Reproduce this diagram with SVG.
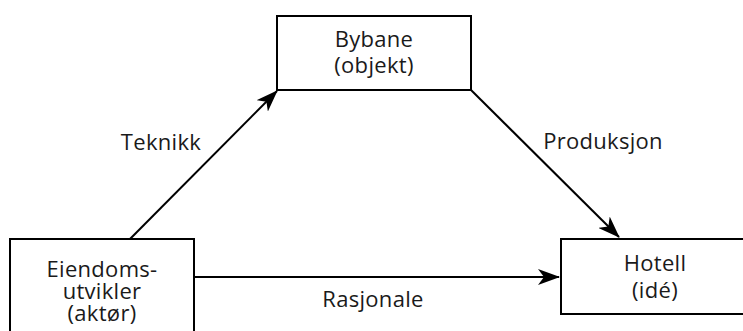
<svg xmlns="http://www.w3.org/2000/svg" width="743" height="331" viewBox="0 0 743 331">
  <style>
    .box { fill: #ffffff; stroke: #000000; stroke-width: 2; }
    .edge { fill: none; stroke: #000000; stroke-width: 2; }
    text { font-family: "Open Sans", "Noto Sans", "Liberation Sans", sans-serif; font-size: 22px; letter-spacing: 0.3px; fill: #1a1a1a; }
    .c { text-anchor: middle; }
  </style>
  <defs>
    <marker id="arrow" markerUnits="userSpaceOnUse" markerWidth="22" markerHeight="16" refX="21" refY="8" orient="auto">
      <path d="M0,0 L22,8 L0,16 L6,8 Z" fill="#000000"/>
    </marker>
  </defs>
  <rect width="743" height="331" fill="#ffffff"/>

  <g id="connectors">
    <line class="edge" x1="130" y1="239" x2="277" y2="91" marker-end="url(#arrow)"/>
    <line class="edge" x1="471" y1="90" x2="619" y2="237" marker-end="url(#arrow)"/>
    <line class="edge" x1="194" y1="277" x2="559" y2="277" marker-end="url(#arrow)"/>
  </g>

  <g id="labels">
    <text x="161" y="150" class="c">Teknikk</text>
    <text x="603" y="149" class="c">Produksjon</text>
    <text x="373" y="307" class="c">Rasjonale</text>
  </g>

  <g id="bybane">
    <rect class="box" x="277" y="16" width="194" height="74"/>
    <text x="374" y="47" class="c">Bybane</text>
    <text x="374" y="73" class="c">(objekt)</text>
  </g>

  <g id="eiendomsutvikler">
    <rect class="box" x="10" y="239" width="184" height="110"/>
    <text x="102" y="277" class="c">Eiendoms-</text>
    <text x="102" y="299" class="c">utvikler</text>
    <text x="102" y="321" class="c">(aktør)</text>
  </g>

  <g id="hotell">
    <rect class="box" x="561" y="239" width="190" height="75"/>
    <text x="655" y="271" class="c">Hotell</text>
    <text x="655" y="298" class="c">(idé)</text>
  </g>
</svg>
